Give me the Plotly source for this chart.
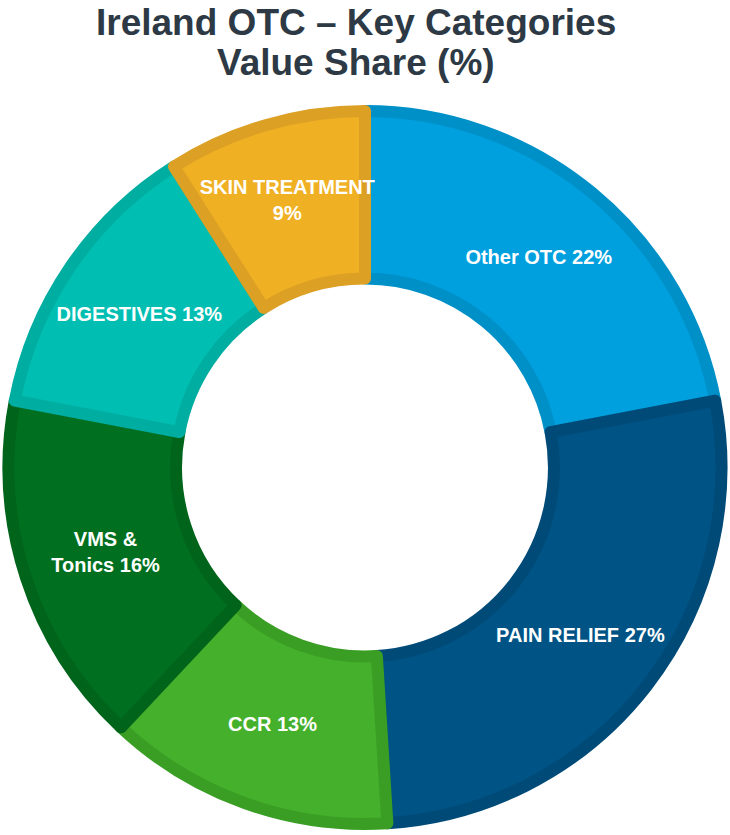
import plotly.graph_objects as go

categories = ["Other OTC", "PAIN RELIEF", "CCR", "VMS & Tonics", "DIGESTIVES", "SKIN TREATMENT"]
shares = [22, 27, 13, 16, 13, 9]
text_labels = ["Other OTC 22%", "PAIN RELIEF 27%", "CCR 13%", "VMS &<br>Tonics 16%",
               "DIGESTIVES 13%", "SKIN TREATMENT<br>9%"]
title_lines = ["Ireland OTC – Key Categories", "Value Share (%)"]
fill_colors = ["#00A0DF", "#005385", "#44B02B", "#007020", "#00BFB2", "#F0B024"]
edge_colors = ["#0090C8", "#004A77", "#3A9E25", "#00641B", "#00ADA1", "#DCA025"]

W, H = 730, 835
FONT = "Liberation Sans, Arial, sans-serif"
fig = go.Figure(go.Pie(
    labels=categories,
    values=shares,
    text=text_labels,
    textinfo="text",
    textposition="inside",
    insidetextorientation="horizontal",
    sort=False,
    direction="clockwise",
    rotation=0,
    hole=0.53,
    marker=dict(colors=fill_colors, line=dict(color=edge_colors, width=12)),
    textfont=dict(family=FONT, size=20, color="white", weight="bold"),
    domain=dict(x=[0, 1], y=[11 / H, 724 / H]),
    showlegend=False,
    hoverinfo="label+percent",
))

title_y = [1 - 22 / H, 1 - 63 / H]
for line, yy in zip(title_lines, title_y):
    fig.add_annotation(
        text=f"<b>{line}</b>", x=0.487, y=yy, xref="paper", yref="paper",
        xanchor="center", yanchor="middle", showarrow=False,
        font=dict(family=FONT, size=37, color="#2D3A45"),
    )

fig.update_layout(
    width=W, height=H,
    margin=dict(l=0, r=0, t=0, b=0),
    paper_bgcolor="white",
    plot_bgcolor="white",
    uniformtext=dict(minsize=20, mode="show"),
)

fig.write_html("out.html", config={"displayModeBar": False},
               post_script="document.body.style.margin='0';")
